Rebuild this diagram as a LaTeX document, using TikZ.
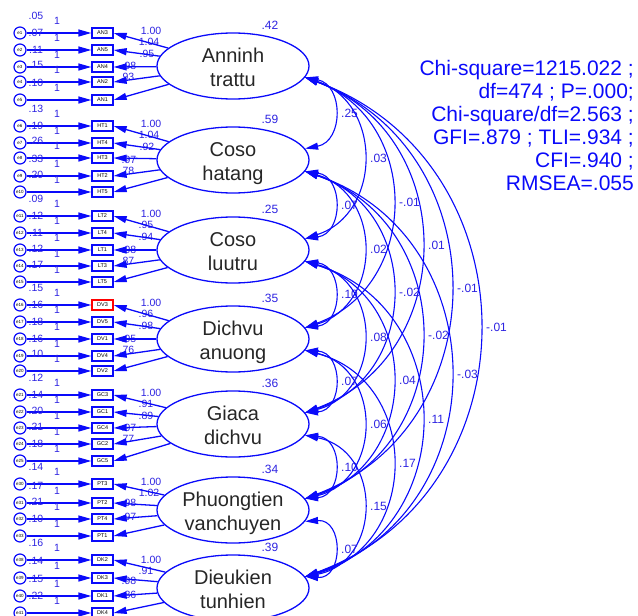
\documentclass[tikz,border=0pt]{standalone}
\usepackage{fontspec}
\setmainfont{Liberation Sans}
\usetikzlibrary{shapes.geometric,arrows.meta}
\definecolor{amosblue}{RGB}{10,10,250}
\definecolor{numblue}{RGB}{45,35,225}
\begin{document}
\begin{tikzpicture}[x=1pt,y=1pt,
  ln/.style={draw=amosblue, line width=1.3pt},
  ar/.style={ln, -{Triangle[length=13pt,width=7pt]}},
  cov/.style={draw=amosblue, line width=1.1pt, {Triangle[length=13pt,width=7pt]}-{Triangle[length=13pt,width=7pt]}},
  lat/.style={ellipse, draw=amosblue, line width=1.3pt, minimum width=152pt, minimum height=66pt, inner sep=0pt},
  lattx/.style={inner sep=0pt, text=black!85, font=\fontsize{20}{24}\selectfont},
  ind/.style={draw=amosblue, line width=1.3pt, fill=white, minimum width=21pt, minimum height=10pt, inner sep=0pt, font=\fontsize{5.5}{6}\selectfont},
  err/.style={circle, draw=amosblue, line width=1.2pt, fill=white, minimum size=12pt, inner sep=0pt, font=\fontsize{4.5}{5}\selectfont},
  num/.style={text=numblue, inner sep=0pt, font=\fontsize{12}{13}\selectfont},
  sml/.style={text=numblue, inner sep=0pt, font=\fontsize{10.5}{11}\selectfont},
  fit/.style={text=amosblue, inner sep=0pt, anchor=base east, font=\fontsize{21}{23}\selectfont}
]
\useasboundingbox (0,0) rectangle (638,-616);

% latent factors
\foreach \n/\c/\ta/\tb/\v in {1/66/Anninh/trattu/.42, 2/160/Coso/hatang/.59, 3/250/Coso/luutru/.25,
  4/339/Dichvu/anuong/.35, 5/424/Giaca/dichvu/.36, 6/510/Phuongtien/vanchuyen/.34, 7/588/Dieukien/tunhien/.39}{
  \node[lat] (L\n) at (233,-\c) {};
  \node[lattx, anchor=base] at (233,-\c+4) {\ta};
  \node[lattx, anchor=base] at (233,-\c-20) {\tb};
  \node[num] at (270,-\c+41) {\v};
}

% loading labels
\foreach \x/\y/\t in {151/31/1.00, 149/42/1.04, 147/54/.95, 129/66/.98, 127/77/.93,
  151/124/1.00, 149/135/1.04, 147/147/.92, 129/160/.97, 127/171/.78,
  151/214/1.00, 146/225/.95, 146/237/.94, 129/250/.98, 127/261/.87,
  151/303/1.00, 146/314/.96, 146/326/.98, 129/339/.95, 127/350/.76,
  151/393/1.00, 146/404/.91, 146/416/.89, 129/428/.97, 127/439/.77,
  151/482/1.00, 149/493/1.02, 129/503/.98, 129/517/.97,
  151/560/1.00, 146/571/.91, 129/581/.98, 129/595/.86}{
  \node[sml] at (\x,-\y) {\t};
}

% indicators and errors
\foreach \g/\nm/\y/\e/\ev/\col in {1/AN3/33/e1/.05/amosblue, 1/AN5/50/e2/.07/amosblue, 1/AN4/67/e3/.11/amosblue, 1/AN2/82/e4/.15/amosblue, 1/AN1/100/e5/.10/amosblue,
  2/HT1/126/e6/.13/amosblue, 2/HT4/143/e7/.19/amosblue, 2/HT3/158/e8/.26/amosblue, 2/HT2/176/e9/.33/amosblue, 2/HT5/192/e10/.20/amosblue,
  3/LT2/216/e11/.09/amosblue, 3/LT4/233/e12/.12/amosblue, 3/LT1/250/e13/.11/amosblue, 3/LT3/266/e14/.12/amosblue, 3/LT5/282/e15/.17/amosblue,
  4/DV3/305/e16/.15/red, 4/DV5/322/e17/.16/amosblue, 4/DV1/339/e18/.18/amosblue, 4/DV4/356/e19/.16/amosblue, 4/DV2/371/e20/.10/amosblue,
  5/GC3/395/e21/.12/amosblue, 5/GC1/412/e22/.14/amosblue, 5/GC4/428/e23/.20/amosblue, 5/GC2/444/e24/.21/amosblue, 5/GC5/461/e25/.18/amosblue,
  6/PT3/484/e30/.14/amosblue, 6/PT2/503/e31/.17/amosblue, 6/PT4/519/e32/.21/amosblue, 6/PT1/536/e33/.10/amosblue,
  7/DK2/560/e38/.16/amosblue, 7/DK3/578/e39/.14/amosblue, 7/DK1/596/e40/.15/amosblue, 7/DK4/613/e41/.22/amosblue}{
  \node[sml] at (36,-\y+17) {\ev};
  \node[sml] at (57,-\y+12) {1};
  \node[ind, draw=\col] (\nm) at (102.5,-\y) {\nm};
  \node[err] (\e) at (20,-\y) {\e};
  \draw[ar] (\e) -- (\nm);
  \draw[ar] (L\g) -- (\nm.east);
}

% covariances
\foreach \i/\j/\lab in {1/2/.25, 1/3/.03, 1/4/-.01, 1/5/.01, 1/6/-.01, 1/7/-.01,
  2/3/.07, 2/4/.02, 2/5/-.02, 2/6/-.02, 2/7/-.03,
  3/4/.10, 3/5/.08, 3/6/.04, 3/7/.11,
  4/5/.07, 4/6/.06, 4/7/.17,
  5/6/.10, 5/7/.15,
  6/7/.07}{
  \pgfmathsetmacro\yi{{66,160,250,339,424,510,588}[\i-1]}
  \pgfmathsetmacro\yj{{66,160,250,339,424,510,588}[\j-1]}
  \pgfmathsetmacro\hh{(\yj-\yi-24)/200}
  \pgfmathsetmacro\bb{0.29*(\j-\i)}
  \pgfmathsetmacro\RR{(\hh*\hh+\bb*\bb)/(2*\bb)}
  \pgfmathsetmacro\al{atan2(\hh,\RR-\bb)}
  \pgfmathsetmacro\dd{400/3*tan(\al/2)*\RR}
  \pgfmathsetmacro\oa{\al-90}
  \pgfmathsetmacro\ia{90-\al}
  \draw[cov] (L\i.351) .. controls +(\oa:\dd pt) and +(\ia:\dd pt) .. (L\j.9);
  \node[num, anchor=west] at ({304+29*(\j-\i)+8},{-(\yi+\yj)/2}) {\lab};
}

% fit statistics
\node[fit] (f1) at (634,-75.5) {Chi-square=1215.022 ;};
\node[fit] (f2) at (634,-98.5) {df=474 ; P=.000;};
\node[fit] (f3) at (634,-121.5) {Chi-square/df=2.563 ;};
\node[fit] (f4) at (634,-144.5) {GFI=.879 ; TLI=.934 ;};
\node[fit] (f5) at (634,-167.5) {CFI=.940 ;};
\node[fit] (f6) at (634,-190.5) {RMSEA=.055};
\end{tikzpicture}
\end{document}
